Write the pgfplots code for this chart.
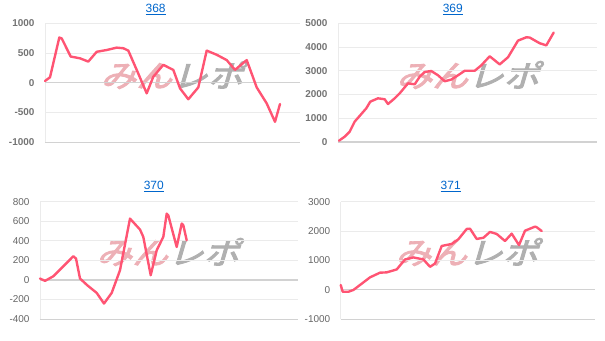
\documentclass[border=0pt]{standalone}
\usepackage{fontspec}
\setmainfont{Liberation Sans}
\newfontfamily\cjk{Noto Sans CJK JP}[FakeSlant=0.25, FakeBold=3]
\usepackage{graphicx}
\usepackage{pgfplots}
\pgfplotsset{compat=1.18}
\definecolor{linec}{HTML}{FF5473}
\definecolor{gridc}{HTML}{EBEBEB}
\definecolor{zeroc}{HTML}{D2D2D2}
\definecolor{tickc}{HTML}{666666}
\definecolor{tickb}{HTML}{747474}
\definecolor{titlec}{HTML}{0066CC}
\definecolor{wmpink}{HTML}{EDB0B6}
\definecolor{wmgray}{HTML}{B0B0B0}
\pgfplotsset{panel/.style={
  scale only axis, anchor=south west,
  xmin=0, xtick=\empty,
  axis x line*=bottom, axis y line*=left,
  x axis line style={zeroc, line width=0.8pt},
  y axis line style={gridc, line width=0.8pt},
  ymajorgrids, grid style={gridc, line width=0.8pt},
  major tick length=0pt,
  extra y ticks={0}, extra y tick labels={},
  extra y tick style={grid style={zeroc, line width=1.3pt}},
  /pgf/number format/assume math mode=true,
  /pgf/number format/1000 sep={},
  y tick label style={font=\fontsize{10}{12}\selectfont, text=tickc, anchor=east, xshift=-7bp},
  title style={font=\fontsize{12}{14}\selectfont, text=titlec, anchor=center},
  every axis plot post/.append style={draw=linec, line width=2.4pt, line join=round, line cap=round, mark=none},
  clip=false,
}, boldticks/.style={y tick label style={font=\fontsize{10}{12}\selectfont\bfseries, text=tickb}}}
\newcommand{\wm}{\resizebox{143bp}{26bp}{\cjk{\color{wmpink}みん}{\color{wmgray}レポ}}}
\begin{document}
\begin{tikzpicture}
\useasboundingbox (0,0) rectangle (605bp,341bp);
\node at (172bp,266bp) {\wm};
\node at (468bp,266bp) {\wm};
\node at (168bp,89bp) {\wm};
\node at (467bp,89bp) {\wm};
% 368
\begin{axis}[panel, boldticks, at={(45bp,199bp)}, width=255bp, height=118.7bp,
  xmax=255, ymin=-1000, ymax=1000, ytick={-1000,-500,0,500,1000},
  title={\underline{368}}, title style={at={(axis description cs:0.434,1)}, yshift=7.8bp}]
\addplot coordinates {(0,28) (5,90) (14.3,760) (16.7,745) (25.7,440) (35,410) (43.3,355) (51.7,520) (61.7,550) (71.7,590) (78.3,580) (83.3,540) (91.7,215) (101.7,-180) (108.3,100) (118.3,300) (128.3,215) (135,-95) (143.3,-280) (153.3,-80) (161.7,540) (171.7,470) (181.7,380) (190,215) (201.7,380) (211.7,-80) (221.7,-350) (230,-660) (235,-360)};
\end{axis}
% 369
\begin{axis}[panel, boldticks, at={(338bp,199bp)}, width=259bp, height=118.7bp,
  xmax=259, ymin=0, ymax=5000, ytick={0,1000,2000,3000,4000,5000},
  title={\underline{369}}, title style={at={(axis description cs:0.443,1)}, yshift=7.8bp}]
\addplot coordinates {(1,55) (6.7,225) (11.7,435) (16.7,860) (21.7,1100) (28.3,1420) (32.3,1700) (40,1840) (46.7,1800) (50,1600) (56.7,1840) (61.7,2050) (70,2470) (76.7,2430) (81.7,2750) (86.7,2950) (93.3,2990) (100,2810) (106.7,2560) (113.3,2630) (120,2810) (126.7,3000) (136.7,3000) (143.3,3230) (151.7,3610) (161.7,3270) (170,3570) (180,4270) (188.3,4410) (191.7,4400) (201.7,4160) (208.3,4070) (215.7,4610)};
\end{axis}
% 370
\begin{axis}[panel, at={(40bp,22bp)}, width=258bp, height=117.3bp,
  xmax=258, ymin=-400, ymax=800, ytick={-400,-200,0,200,400,600,800},
  title={\underline{370}}, title style={at={(axis description cs:0.441,1)}, yshift=9bp}]
\addplot coordinates {(0,14) (5,-10) (13.3,37) (20,105) (33.3,242) (36,218) (40,14) (47.3,-55) (56.7,-133) (64,-242) (71.7,-133) (80,99) (90,627) (100,515) (103.3,440) (110.7,48) (116.7,303) (123.3,440) (126.7,678) (128.3,660) (136.7,337) (141.7,576) (143.3,560) (146.7,405)};
\end{axis}
% 371
\begin{axis}[panel, at={(340.7bp,22bp)}, width=254bp, height=117.3bp,
  xmax=254, ymin=-1000, ymax=3000, ytick={-1000,0,1000,2000,3000},
  title={\underline{371}}, title style={at={(axis description cs:0.433,1)}, yshift=9bp}]
\addplot coordinates {(0,160) (2,-70) (7.7,-70) (12.7,-10) (19.3,160) (29.3,420) (39.3,580) (46,590) (56,690) (64.3,1030) (72.7,1100) (82.7,1030) (89.3,780) (94.3,890) (101,1490) (111,1560) (117.7,1720) (126,2070) (129.3,2080) (136,1730) (142.7,1770) (149.3,1970) (156,1900) (164.3,1660) (171,1910) (178.3,1520) (184.3,2010) (194.3,2150) (196,2130) (201,2000)};
\end{axis}
\end{tikzpicture}
\end{document}
